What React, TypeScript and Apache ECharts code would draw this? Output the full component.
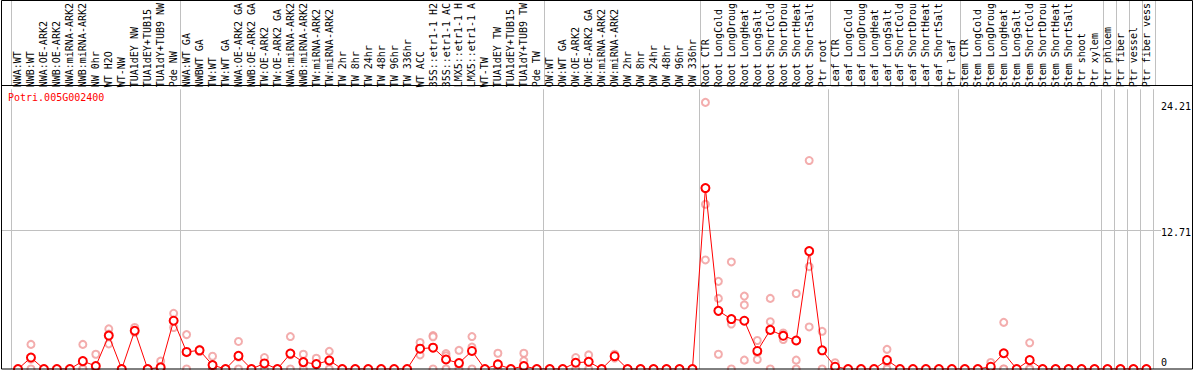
import React, { useEffect, useRef } from "react";
import * as echarts from "echarts";

const categories: string[] = [
  "NWA:WT", "NWB:WT", "NWA:OE-ARK2", "NWB:OE-ARK2", "NWA:miRNA-ARK2", "NWB:miRNA-ARK2",
  "NW 0hr", "WT H2O", "WT-NW", "TUA1dEY NW", "TUA1dEY+TUB15", "TUA1dY+TUB9 NW", "Pde NW",
  "NWA:WT GA", "NWBWT GA", "TW:WT", "TW:WT GA", "NWA:OE-ARK2 GA", "NWB:OE-ARK2 GA",
  "TW:OE-ARK2", "TW:OE-ARK2 GA", "NWA:miRNA-ARK2", "NWB:miRNA-ARK2", "TW:miRNA-ARK2",
  "TW:miRNA-ARK2", "TW 2hr", "TW 8hr", "TW 24hr", "TW 48hr", "TW 96hr", "TW 336hr",
  "WT ACC", "35S::etr1-1 H2", "35S::etr1-1 AC", "LMX5::etr1-1 H", "LMX5::etr1-1 A",
  "WT-TW", "TUA1dEY TW", "TUA1dEY+TUB15", "TUA1dY+TUB9 TW", "Pde TW",
  "OW:WT", "OW:WT GA", "OW:OE-ARK2", "OW:OE-ARK2 GA", "OW:miRNA-ARK2", "OW:miRNA-ARK2",
  "OW 2hr", "OW 8hr", "OW 24hr", "OW 48hr", "OW 96hr", "OW 336hr",
  "Root CTR", "Root LongCold", "Root LongDroug", "Root LongHeat", "Root LongSalt",
  "Root ShortCold", "Root ShortDrou", "Root ShortHeat", "Root ShortSalt", "Ptr root",
  "Leaf CTR", "Leaf LongCold", "Leaf LongDroug", "Leaf LongHeat", "Leaf LongSalt",
  "Leaf ShortCold", "Leaf ShortDrou", "Leaf ShortHeat", "Leaf ShortSalt", "Ptr leaf",
  "Stem CTR", "Stem LongCold", "Stem LongDroug", "Stem LongHeat", "Stem LongSalt",
  "Stem ShortCold", "Stem ShortDrou", "Stem ShortHeat", "Stem ShortSalt", "Ptr shoot",
  "Ptr xylem", "Ptr phloem", "Ptr fiber", "Ptr vessel", "Ptr fiber vess",
];

// indices of the first category of each group (grey separators)
const groupStarts: number[] = [0, 13, 41, 53, 63, 73, 84, 85, 86, 87];

const means: number[] = [
  0, 1.05, 0, 0, 0, 0.72, 0.27, 3.06, 0, 3.5, 0, 0.15, 4.42,
  1.56, 1.71, 0.36, 0, 1.2, 0, 0.51, 0, 1.41, 0.63, 0.45, 0.78, 0, 0, 0, 0, 0, 0,
  1.86, 1.95, 0.87, 0.54, 1.65, 0, 0.42, 0, 0.27, 0,
  0, 0, 0.57, 0.66, 0, 1.17, 0, 0, 0, 0, 0, 0,
  16.56, 5.32, 4.57, 4.42, 1.65, 3.58, 3.04, 2.61, 10.79, 1.71,
  0.21, 0, 0, 0, 0.81, 0, 0, 0, 0, 0,
  0, 0, 0.21, 1.44, 0, 0.81, 0, 0, 0, 0,
  0, 0, 0, 0, 0,
];

const replicates: number[][] = [
  [0, 0], [2.25, 0.9, 0], [0, 0], [0, 0], [0, 0], [2.25, 0, 0], [1.35, 0, 0],
  [3.67, 3.2, 2.3], [0, 0], [3.8, 3.36], [0, 0], [0.72, 0, 0], [5.1, 4.4, 3.8],
  [3.15, 1.5, 0], [1.8, 1.6], [1.17, 0, 0], [0, 0], [2.52, 1.1, 0], [0, 0],
  [1.05, 0.5, 0], [0, 0], [2.97, 1.3, 0], [1.35, 0.5, 0], [0.99, 0.4], [1.62, 0.7, 0],
  [0, 0], [0, 0], [0, 0], [0, 0], [0, 0], [0, 0],
  [2.43, 1.86, 1.29], [3.06, 2.95, 0], [1.41, 1.2, 0], [1.71, 0], [2.97, 2.0, 0],
  [0, 0], [1.44, 0], [0, 0], [1.44, 0.75, 0], [0, 0],
  [0, 0], [0, 0], [1.05, 0.6, 0], [1.29, 0.7, 0], [0, 0], [1.35, 1.2, 1.0],
  [0, 0], [0, 0], [0, 0], [0, 0], [0, 0], [0, 0],
  [24.4, 15.08, 9.98], [8.02, 6.46, 1.35], [9.8, 4.12, 0], [6.67, 5.86, 0.81],
  [2.61, 1.5, 0.87], [6.46, 4.33, 0], [3.3, 3.1, 2.7], [6.91, 0.81, 0],
  [19.08, 9.37, 3.85], [3.45, 0],
  [0.57, 0], [0, 0], [0, 0], [0, 0], [1.8, 0.6, 0], [0, 0], [0, 0], [0, 0], [0, 0], [0, 0],
  [0, 0], [0, 0], [0.6, 0], [4.27, 0, 0], [0, 0], [2.4, 0, 0], [0, 0], [0, 0], [0, 0], [0, 0],
  [0, 0], [0, 0], [0, 0], [0, 0], [0, 0],
];

const yTickValues: number[] = [0, 12.71, 24.21];
const yTickLabels: string[] = ["0", "12.71", "24.21"];
const gridLineValue = 12.71;
const geneName = "Potri.005G002400";

const MONO = "'DejaVu Sans Mono', monospace";

export default function App() {
  const ref = useRef<HTMLDivElement>(null);

  useEffect(() => {
    if (!ref.current) return;
    const chart = echarts.init(ref.current, undefined, { renderer: "svg" });

    const repData: number[][] = [];
    replicates.forEach((vals, i) => vals.forEach((v) => repData.push([i, v])));

    const sepFn = (index: number) => groupStarts.indexOf(index) >= 0;

    const gridL = 11.5;
    const gridR = 1194 - (11.5 + 13 * categories.length);

    const frame = [
      {
        id: "frame",
        type: "rect",
        shape: { x: 1.5, y: 0.5, width: 1191, height: 368.5 },
        style: { fill: "none", stroke: "#000000", lineWidth: 1 },
        z: 100,
      },
      {
        id: "sep",
        type: "line",
        shape: { x1: 1.5, y1: 85.5, x2: 1192.5, y2: 85.5 },
        style: { stroke: "#000000", lineWidth: 1 },
        z: 100,
      },
    ];

    chart.setOption({
      animation: false,
      backgroundColor: "#ffffff",
      title: {
        text: geneName,
        left: 8,
        top: 92,
        padding: 0,
        textStyle: { color: "#ff0000", fontSize: 10, fontFamily: MONO, fontWeight: "normal" },
      },
      grid: [
        { left: gridL, right: gridR, top: 85, bottom: 1 },
        { left: gridL, right: gridR, top: 0, height: 85 },
      ],
      xAxis: [
        {
          type: "category",
          gridIndex: 0,
          data: categories,
          position: "top",
          boundaryGap: true,
          axisLine: { show: false },
          axisTick: { show: false },
          axisLabel: {
            interval: 0,
            rotate: 90,
            margin: 2,
            fontFamily: MONO,
            fontSize: 10,
            color: "#000000",
          },
          splitLine: { show: true, interval: sepFn, lineStyle: { color: "#c0c0c0", width: 1 } },
        },
        {
          type: "category",
          gridIndex: 1,
          data: categories,
          boundaryGap: true,
          axisLine: { show: false },
          axisTick: { show: false },
          axisLabel: { show: false },
          splitLine: { show: true, interval: sepFn, lineStyle: { color: "#c0c0c0", width: 1 } },
        },
      ],
      yAxis: [
        {
          type: "value",
          gridIndex: 0,
          min: 0,
          max: 25.6,
          position: "right",
          axisLine: { show: false },
          axisTick: { show: false },
          splitLine: { show: false },
          axisLabel: {
            customValues: yTickValues,
            margin: 8,
            align: "left",
            fontFamily: MONO,
            fontSize: 10,
            color: "#000000",
            formatter: (v: number) => {
              const idx = yTickValues.findIndex((t) => Math.abs(t - v) < 1e-6);
              const s = idx >= 0 ? yTickLabels[idx] : String(v);
              return v === 0 ? `{b|${s}}` : `{t|${s}}`;
            },
            rich: {
              t: { fontFamily: MONO, fontSize: 10, color: "#000", padding: [5, 0, 0, 0] },
              b: { fontFamily: MONO, fontSize: 10, color: "#000", padding: [0, 0, 13, 0] },
            },
          },
        },
        {
          type: "value",
          gridIndex: 1,
          show: false,
          splitLine: { show: false },
        },
      ],
      graphic: frame,
      series: [
        {
          type: "scatter",
          xAxisIndex: 0,
          yAxisIndex: 0,
          data: repData,
          symbol: "emptyCircle",
          symbolSize: 7,
          itemStyle: { color: "#f09898", borderColor: "#f09898", borderWidth: 1.5 },
          z: 2,
          silent: true,
        },
        {
          type: "line",
          xAxisIndex: 0,
          yAxisIndex: 0,
          data: means,
          symbol: "emptyCircle",
          symbolSize: 8,
          showAllSymbol: true,
          lineStyle: { color: "#ff0000", width: 1 },
          itemStyle: { color: "#ff0000", borderColor: "#ff0000", borderWidth: 1.8 },
          z: 3,
          silent: true,
        },
      ],
    });

    // horizontal reference line at 12.71, positioned through the value axis scale
    const yPix = chart.convertToPixel({ yAxisIndex: 0 }, gridLineValue) as number;
    chart.setOption({
      graphic: [
        ...frame,
        {
          id: "hline",
          type: "line",
          shape: { x1: 2, y1: Math.round(yPix) + 0.5, x2: 1161, y2: Math.round(yPix) + 0.5 },
          style: { stroke: "#c0c0c0", lineWidth: 1 },
          z: 0,
          silent: true,
        },
      ],
    });

    return () => chart.dispose();
  }, []);

  return (
    <div
      ref={ref}
      style={{ position: "fixed", left: 0, top: 0, width: 1194, height: 370, background: "#fff" }}
    />
  );
}
